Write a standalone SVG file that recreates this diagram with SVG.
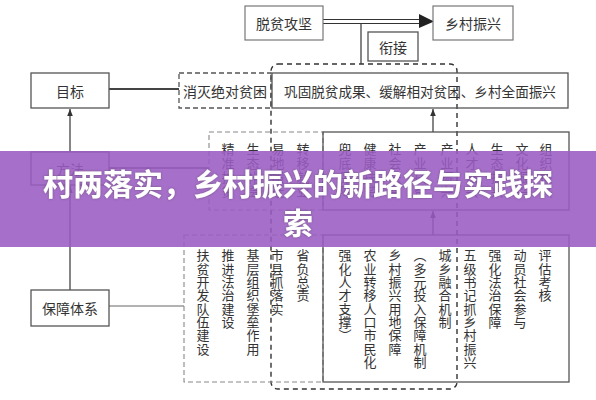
<svg xmlns="http://www.w3.org/2000/svg" width="596" height="400" viewBox="0 0 596 400">
<style>
text{font-family:"Noto Sans CJK SC","Noto Sans",sans-serif;fill:#333;}
.t{font-size:14px;text-anchor:middle;dominant-baseline:central;}
.box{fill:#fff;stroke:#555;stroke-width:1.3;}
.lbox{fill:#fff;stroke:#777;stroke-width:1.2;}
.dbox{fill:none;stroke:#555;stroke-width:1.3;stroke-dasharray:5 3;}
.dbox2{fill:none;stroke:#888;stroke-width:1.1;stroke-dasharray:5 3;}
.v{font-size:13px;writing-mode:vertical-rl;text-orientation:upright;}
.vm{letter-spacing:1px;}
.vb{letter-spacing:0.3px;}
.ln{stroke:#444;stroke-width:1.3;fill:none;}
.banner{font-size:30px;font-weight:bold;fill:#fff;text-anchor:middle;dominant-baseline:central;}
</style>
<defs>
<marker id="ah" viewBox="0 0 10 10" refX="10" refY="5" markerWidth="7" markerHeight="7" orient="auto-start-reverse" markerUnits="userSpaceOnUse">
<path d="M0,1 L10,5 L0,9 Z" fill="#333"/>
</marker>
<filter id="sh" x="-5%" y="-20%" width="110%" height="140%">
<feDropShadow dx="0" dy="0" stdDeviation="1" flood-color="#444" flood-opacity="0.6"/>
</filter>
</defs>

<g id="connectors">
<line x1="323" y1="19.5" x2="421" y2="19.5" stroke="#333" stroke-width="1.1"/>
<line x1="323" y1="23.5" x2="421" y2="23.5" stroke="#333" stroke-width="1.1"/>
<path d="M419,14 L434,21.5 L419,28 Z" fill="#222"/>
<line x1="361" y1="23.5" x2="361" y2="64" class="ln"/>
<rect x="271" y="64" width="186" height="325" rx="7" fill="none" stroke="#333" stroke-width="1.4" stroke-dasharray="5 4"/>
<line x1="109" y1="89" x2="179" y2="89" stroke="#444" stroke-width="2"/>
<line x1="70" y1="152" x2="70" y2="109" class="ln" marker-end="url(#ah)"/>
<line x1="70" y1="290" x2="70" y2="186" class="ln" marker-end="url(#ah)"/>
<line x1="109" y1="168" x2="209" y2="168" class="ln"/>
<line x1="109" y1="306" x2="184" y2="306" stroke="#666" stroke-width="1.1"/>
<line x1="433" y1="132" x2="433" y2="109" class="ln" marker-end="url(#ah)"/>
<line x1="433" y1="235" x2="433" y2="211" class="ln" marker-end="url(#ah)"/>
</g>

<g id="n-tuopin"><rect x="245" y="6" width="78" height="34" class="lbox"/><text x="284" y="23" class="t">脱贫攻坚</text></g>
<g id="n-xiangcun"><rect x="433" y="6" width="80" height="34" class="lbox"/><text x="473" y="23" class="t">乡村振兴</text></g>
<g id="n-xianjie"><rect x="368" y="32" width="50" height="29" class="box"/><text x="393" y="46.5" class="t">衔接</text></g>

<g id="n-mubiao"><rect x="31" y="73" width="78" height="35" class="box"/><text x="70" y="90.5" class="t">目标</text></g>
<g id="n-xiaomie"><rect x="179" y="73" width="92" height="35" class="dbox"/><text x="225" y="90.5" class="t">消灭绝对贫困</text></g>
<g id="n-gonggu"><rect x="272" y="73" width="296" height="35" class="box" style="fill:none"/><text x="420" y="90.5" class="t" style="font-size:13.6px">巩固脱贫成果、缓解相对贫困、乡村全面振兴</text></g>

<g id="n-fangfa"><rect x="31" y="152" width="78" height="33" class="box"/><text x="70" y="168.5" class="t">方法</text></g>
<g id="n-fangfa-a">
<rect x="209" y="132" width="114" height="78" class="dbox2"/>
<text x="228" y="142.5" class="v vm">精准扶贫</text>
<text x="253" y="142.5" class="v vm">生态补偿</text>
<text x="278" y="142.5" class="v vm">易地搬迁</text>
<text x="303" y="142.5" class="v vm">转移就业</text>
</g>
<g id="n-fangfa-b">
<rect x="323" y="132" width="246" height="78" class="box" style="fill:none"/>
<text x="345" y="142.5" class="v vm">兜底保障</text>
<text x="370" y="142.5" class="v vm">健康扶贫</text>
<text x="395" y="142.5" class="v vm">社会扶贫</text>
<text x="420" y="142.5" class="v vm">产业扶贫</text>
<text x="447" y="142.5" class="v vm">产业振兴</text>
<text x="472" y="142.5" class="v vm">人才振兴</text>
<text x="497" y="142.5" class="v vm">生态振兴</text>
<text x="522" y="142.5" class="v vm">文化振兴</text>
<text x="546" y="142.5" class="v vm">组织振兴</text>
</g>

<g id="n-baozhang"><rect x="31" y="290" width="78" height="36" class="box"/><text x="70" y="308" class="t">保障体系</text></g>
<g id="n-baozhang-a">
<rect x="184" y="235" width="139" height="147" class="dbox2"/>
<text x="203" y="249" class="v vb">扶贫开发队伍建设</text>
<text x="228" y="249" class="v vb">推进法治建设</text>
<text x="253" y="249" class="v vb">基层组织堡垒作用</text>
<text x="277" y="249" class="v vb">市县抓落实</text>
<text x="303" y="249" class="v vb">省负总责</text>
</g>
<g id="n-baozhang-b">
<rect x="323" y="235" width="246" height="147" class="box" style="fill:none"/>
<text x="345" y="249" class="v vb">强化人才支撑）</text>
<text x="370" y="249" class="v vb">农业转移人口市民化</text>
<text x="395" y="249" class="v vb">乡村振兴用地保障</text>
<text x="420" y="249" class="v vb">（多元投入保障机制</text>
<text x="445" y="249" class="v vb">城乡融合机制</text>
<text x="470" y="249" class="v vb">五级书记抓乡村振兴</text>
<text x="495" y="249" class="v vb">强化法治保障</text>
<text x="520" y="249" class="v vb">动员社会参与</text>
<text x="545" y="249" class="v vb">评估考核</text>
</g>

<g id="banner">
<rect x="0" y="151" width="596" height="96" fill="#9a5bc2" fill-opacity="0.88"/>
<text x="298" y="182" class="banner" filter="url(#sh)">村两落实，乡村振兴的新路径与实践探</text>
<text x="298" y="221" class="banner" filter="url(#sh)">索</text>
</g>
</svg>
